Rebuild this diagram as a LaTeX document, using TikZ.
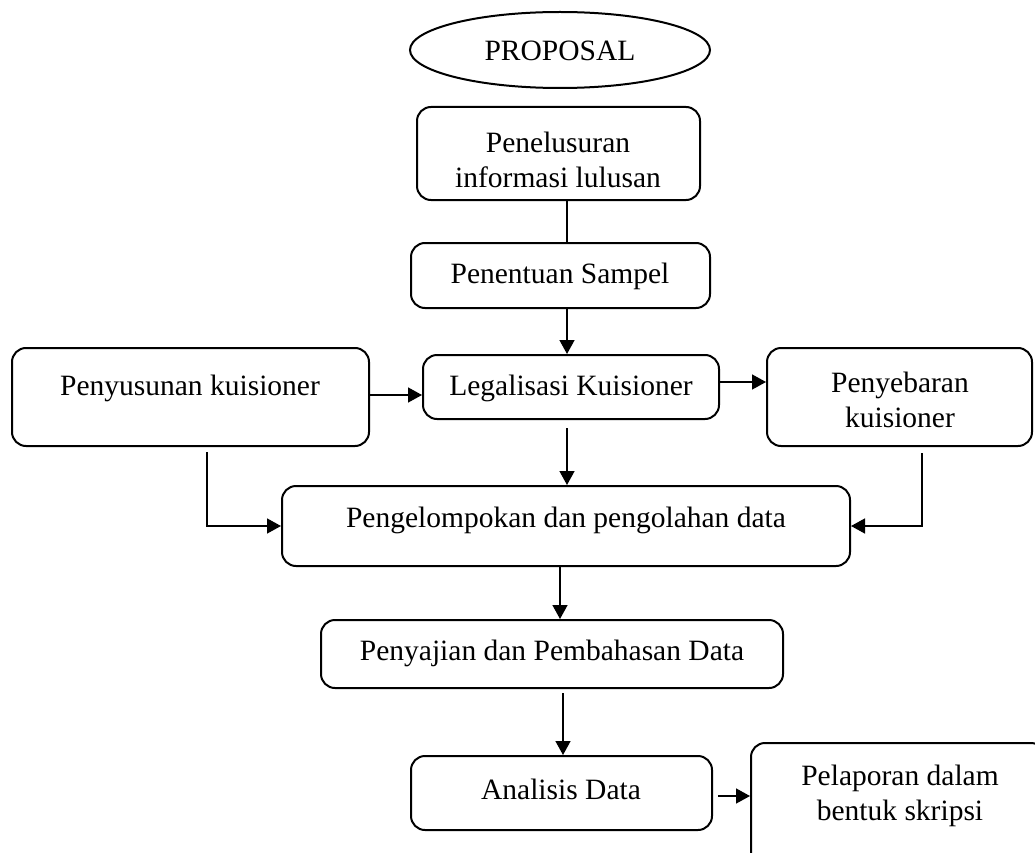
\documentclass[tikz,border=0pt]{standalone}
\usepackage{fontspec}
\setmainfont{Liberation Serif}
\usetikzlibrary{arrows.meta,shapes.geometric}
\tikzset{
  box/.style={draw=black, line width=2pt, rounded corners=14pt, inner sep=0pt},
  txt/.style={align=center, inner sep=0pt, font=\fontsize{29.5}{35.5}\selectfont},
  conn/.style={draw=black, line width=1.5pt},
  arr/.style={conn, -{Triangle[length=14pt,width=15pt]}}
}
\begin{document}
\begin{tikzpicture}[x=1pt,y=-1pt]
\useasboundingbox (0,0) rectangle (1035,853);
\clip (0,0) rectangle (1035,853);
\fill[white] (0,0) rectangle (1035,853);
% helper coordinates
\coordinate (cx) at (567,0);
\coordinate (c2) at (560,0);
\coordinate (c3) at (563,0);
\coordinate (lx) at (207,0);
\coordinate (rx) at (922,0);
\coordinate (ay) at (0,395);
\coordinate (by) at (0,382);
\coordinate (dy) at (0,796);
% nodes
\node[draw=black, line width=2pt, ellipse, minimum width=300pt, minimum height=76pt, inner sep=0pt] (prop) at (560,50) {};
\node[txt] (propT) at (560,51) {PROPOSAL};

\node[box, minimum width=283pt, minimum height=93pt] (pen) at (558.5,153.5) {};
\node[txt] (penT) at (558,160) {Penelusuran\\informasi lulusan};

\node[box, minimum width=299pt, minimum height=65pt] (sam) at (560.5,275.5) {};
\node[txt] (samT) at (560,276) {Penentuan Sampel};

\node[box, minimum width=296pt, minimum height=64pt] (leg) at (571,387) {};
\node[txt] (legT) at (571,388) {Legalisasi Kuisioner};

\node[box, minimum width=357pt, minimum height=98pt] (pyu) at (190.5,397) {};
\node[txt] (pyuT) at (190,388) {Penyusunan kuisioner};

\node[box, minimum width=265pt, minimum height=98pt] (pye) at (899.5,397) {};
\node[txt] (pyeT) at (900,400) {Penyebaran\\kuisioner};

\node[box, minimum width=568pt, minimum height=80pt] (pgl) at (566,526) {};
\node[txt] (pglT) at (566,520) {Pengelompokan dan pengolahan data};

\node[box, minimum width=462pt, minimum height=68pt] (saj) at (552,654) {};
\node[txt] (sajT) at (552,653) {Penyajian dan Pembahasan Data};

\node[box, minimum width=301pt, minimum height=74pt] (ana) at (561.5,793) {};
\node[txt] (anaT) at (561,789) {Analisis Data};

\node[box, minimum width=294pt, minimum height=137pt] (lap) at (898,811.5) {};
\node[txt] (lapT) at (900,796) {Pelaporan dalam\\bentuk skripsi};

% connectors
\draw[conn] (pen.south -| cx) -- (sam.north -| cx);
\draw[arr] (sam.south -| cx) -- (leg.north -| cx);
\draw[arr] (pyu.east |- ay) -- (leg.west |- ay);
\draw[arr] (leg.east |- by) -- (pye.west |- by);
\draw[arr, shorten <=8pt] (leg.south -| cx) -- (pgl.north -| cx);
\draw[arr, shorten <=5pt] (pyu.south -| lx) |- (pgl.west);
\draw[arr, shorten <=6pt] (pye.south -| rx) |- (pgl.east);
\draw[arr] (pgl.south -| c2) -- (saj.north -| c2);
\draw[arr, shorten <=4pt] (saj.south -| c3) -- (ana.north -| c3);
\draw[arr, shorten <=5pt] (ana.east |- dy) -- (lap.west |- dy);
\end{tikzpicture}
\end{document}
